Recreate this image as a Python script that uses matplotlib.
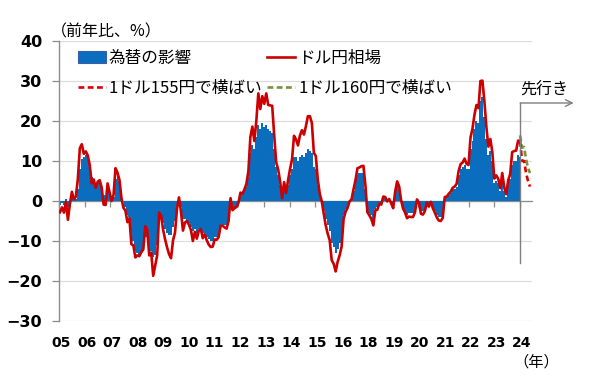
import matplotlib
matplotlib.use("Agg")
import matplotlib.pyplot as plt
import numpy as np
from matplotlib.patches import Patch
from matplotlib.lines import Line2D
import matplotlib.transforms as mtransforms

plt.rcParams['font.family'] = ['Noto Sans CJK JP', 'DejaVu Sans']

# ---- data (monthly, Jan 2005 - May 2024) ----
usdjpy_yoy = [
    -2.8, -1.6, -2.9, -0.2, -4.7, -0.7, 2.3, 0.4, 1.1, 5.5, 13.2, 14.2,      # 2005
    11.8, 12.4, 11.4, 9.0, 4.4, 5.4, 3.3, 4.8, 5.2, 3.4, -0.9, -1.0,          # 2006
    4.4, 2.2, 0.0, 1.5, 8.2, 7.1, 5.2, 0.7, -1.7, -2.4, -5.3, -4.3,           # 2007
    -10.8, -11.1, -14.1, -13.6, -13.8, -12.8, -12.1, -6.3, -7.3, -13.6, -12.9, -18.7,  # 2008
    -16.1, -13.6, -2.9, -3.7, -7.2, -9.6, -11.6, -13.3, -14.3, -9.8, -7.9, -1.9,      # 2009
    0.9, -2.6, -7.4, -5.4, -5.0, -5.9, -7.2, -10.0, -7.7, -9.4, -7.4, -7.0,   # 2010
    -9.3, -8.3, -9.8, -10.9, -11.5, -11.4, -9.6, -9.7, -9.0, -6.2, -6.2, -6.6,  # 2011
    -6.9, -5.0, 0.7, -2.3, -1.8, -1.5, -0.4, 2.1, 1.8, 2.9, 4.3, 7.5,         # 2012
    16.0, 18.6, 15.0, 20.0, 26.9, 23.0, 26.2, 24.3, 26.9, 24.0, 23.9, 23.8,   # 2013
    16.5, 9.7, 7.9, 4.9, 0.7, 4.7, 2.0, 5.2, 8.0, 10.4, 16.3, 15.4,           # 2014
    13.9, 16.4, 17.7, 16.6, 18.7, 21.2, 21.2, 19.5, 12.1, 11.2, 5.3, 1.8,     # 2015
    -0.1, -3.2, -6.1, -8.2, -9.8, -14.8, -15.7, -17.6, -15.2, -13.6, -11.4, -4.5,  # 2016
    -2.7, -1.7, -0.1, 0.4, 2.9, 5.2, 8.2, 8.4, 8.7, 8.8, 3.9, -2.8,           # 2017
    -3.6, -4.5, -6.1, -2.3, -2.2, -0.7, -0.9, 1.1, 1.0, -0.1, 0.5, -0.6,      # 2018
    -1.8, 2.3, 4.9, 3.7, 0.2, -1.9, -2.9, -4.3, -3.9, -4.0, -4.0, -2.8,       # 2019
    0.4, -0.4, -3.2, -3.4, -2.5, -0.4, -1.4, -0.2, -1.8, -2.9, -4.1, -4.9,    # 2020
    -5.0, -4.2, 1.0, 1.1, 1.8, 2.3, 3.3, 3.6, 4.3, 7.5, 9.2, 9.6,             # 2021
    10.6, 9.3, 9.0, 15.9, 18.1, 21.6, 24.0, 23.2, 30.0, 30.1, 24.9, 18.5,     # 2022
    13.6, 15.5, 12.2, 5.6, 6.4, 5.5, 3.2, 7.0, 3.4, 1.7, 5.2, 6.7,            # 2023
    12.2, 12.5, 12.6, 15.1, 15.0,                                             # 2024
]

fx_effect = [
    -1.0, -0.5, -1.0, 0.5, -1.5, 0.0, 1.0, 0.5, 0.5, 3.0, 8.0, 10.5,
    11.0, 11.5, 10.5, 9.0, 6.0, 5.0, 4.5, 4.5, 4.5, 3.5, 1.5, 0.5,
    3.0, 2.0, 1.0, 1.0, 5.5, 6.5, 5.0, 2.0, 0.0, -1.5, -3.5, -4.0,
    -8.0, -10.0, -12.5, -13.0, -13.5, -13.0, -12.5, -9.0, -9.0, -11.5, -12.5, -14.0,
    -13.5, -11.0, -4.5, -4.0, -5.5, -7.0, -8.0, -8.5, -8.5, -6.5, -5.0, -1.5,
    0.0, -1.5, -4.5, -4.5, -5.0, -5.5, -6.5, -7.5, -7.0, -8.0, -7.0, -7.0,
    -8.0, -8.0, -9.0, -9.5, -10.0, -10.0, -9.0, -9.0, -8.5, -6.5, -6.0, -6.0,
    -6.0, -4.5, -1.0, -2.0, -1.5, -1.5, -0.5, 1.5, 1.5, 2.5, 3.5, 6.0,
    12.0, 14.0, 13.0, 16.0, 19.0, 18.0, 19.5, 18.5, 19.0, 18.0, 17.5, 17.0,
    13.0, 8.5, 6.5, 4.0, 1.0, 3.5, 2.0, 4.0, 6.5, 8.0, 11.0, 11.0,
    10.0, 11.0, 11.5, 11.0, 12.0, 13.0, 12.5, 12.0, 8.5, 8.0, 4.0, 1.5,
    -0.5, -2.5, -4.5, -6.0, -7.5, -10.5, -11.5, -13.0, -12.0, -10.5, -8.5, -3.5,
    -2.0, -1.5, 0.0, 0.5, 2.5, 4.0, 6.5, 7.0, 7.0, 7.0, 3.0, -2.0,
    -3.0, -3.5, -4.5, -2.0, -1.5, -0.5, -0.5, 1.0, 1.0, 0.0, 0.5, -0.5,
    -1.5, 2.0, 4.0, 3.0, 0.0, -1.5, -2.5, -3.5, -3.0, -3.0, -3.0, -2.0,
    0.5, 0.0, -2.5, -2.5, -2.0, -0.5, -1.0, 0.0, -1.5, -2.5, -3.5, -4.0,
    -4.0, -3.5, 1.0, 1.0, 1.5, 2.0, 3.0, 3.0, 3.5, 6.5, 8.0, 8.5,
    9.0, 8.0, 8.0, 13.0, 15.0, 18.0, 20.0, 19.5, 25.0, 26.0, 21.0, 15.5,
    11.5, 12.5, 10.0, 4.5, 5.0, 4.5, 2.5, 5.5, 2.5, 1.0, 4.0, 5.5,
    9.0, 10.0, 10.0, 11.5, 11.0,
]

# scenarios (May 2024 - Oct 2024)
flat155 = [15.0, 10.0, 10.0, 7.0, 5.0, 3.6]
flat160 = [16.4, 13.3, 13.5, 10.5, 8.2, 7.0]

year_labels = ['05', '06', '07', '08', '09', '10', '11', '12', '13', '14',
               '15', '16', '18', '19', '20', '21', '22', '23', '24']

# ---- style ----
BLUE = '#0B6DBE'
RED = '#CC0000'
GREEN = '#77933C'
GRAY = '#8C8C8C'
GRID = '#DCDCDC'

fig = plt.figure(figsize=(6.0, 3.81), dpi=100)
W, H = 600, 381
ax = fig.add_axes([59 / W, 1 - 321 / H, (532 - 59) / W, (321 - 41) / H])

n = len(usdjpy_yoy)
x = np.arange(n)
last = n - 1
xf = np.arange(last, last + len(flat155))

ax.bar(x, fx_effect, width=1.0, color=BLUE, linewidth=0, zorder=2)
ax.plot(x, usdjpy_yoy, color=RED, lw=1.9, zorder=3, solid_joinstyle='round')
ax.plot(xf, flat160, color=GREEN, lw=1.9, ls=(0, (2.2, 1.3)), zorder=4)
ax.plot(xf, flat155, color='#E00000', lw=1.9, ls=(0, (2.2, 1.3)), zorder=4)

ax.set_xlim(-0.5, 238.0)
ax.set_ylim(-30, 40)

# y axis
ax.set_yticks(np.arange(-30, 41, 10))
ax.yaxis.grid(True, color=GRID, lw=0.9, zorder=0)
ax.set_axisbelow(True)
ax.tick_params(axis='y', direction='out', length=5, width=0.9, color=GRAY,
               pad=7, labelsize=11.5, labelcolor='black')
for lab in ax.get_yticklabels():
    lab.set_family('DejaVu Sans')
    lab.set_fontweight('bold')

for s in ['top', 'right']:
    ax.spines[s].set_visible(False)
ax.spines['left'].set_color(GRAY)
ax.spines['left'].set_linewidth(1.0)
ax.spines['bottom'].set_position(('data', 0))
ax.spines['bottom'].set_color(GRAY)
ax.spines['bottom'].set_linewidth(0.9)
ax.spines['bottom'].set_zorder(1)

# x ticks at zero line, labels at the bottom
tick_pos = np.linspace(-0.5, last, len(year_labels))
ax.set_xticks(tick_pos)
ax.tick_params(axis='x', direction='out', length=4, width=0.9, color=GRAY,
               labelbottom=False)
trans = mtransforms.blended_transform_factory(ax.transData, ax.transAxes)
for p, lab in zip(tick_pos, year_labels):
    ax.text(p + 1.0, -0.077, lab, transform=trans, ha='center', va='center',
            fontsize=10, family='DejaVu Sans', fontweight='bold')

ax.text(1.008, -0.148, '（年）', transform=ax.transAxes, ha='center',
        va='center', fontsize=11)
fig.text(51 / W, 1 - 32 / H, '（前年比、%）', ha='left', va='center',
         fontsize=11.5)

# forecast marker
top_v = 24.5
ax.plot([last, last], [-15.5, top_v], color='#7F7F7F', lw=1.0, zorder=5)
ax.annotate('', xy=(259, top_v), xytext=(last, top_v),
            arrowprops=dict(arrowstyle='->', color='#7F7F7F', lw=1.0,
                            shrinkA=0, shrinkB=0, mutation_scale=12),
            annotation_clip=False, zorder=5)
ax.text(last + 0.3, top_v + 1.1, '先行き', ha='left', va='bottom',
        fontsize=11.5)

# legend
handles = [
    Patch(facecolor=BLUE, edgecolor='#3A5FA8', linewidth=0.8),
    Line2D([0], [0], color='#E00000', lw=1.9, ls=(0, (2.2, 1.3))),
    Line2D([0], [0], color=RED, lw=1.9),
    Line2D([0], [0], color=GREEN, lw=1.9, ls=(0, (2.2, 1.3))),
]
labels = ['為替の影響', '1ドル155円で横ばい', 'ドル円相場', '1ドル160円で横ばい']
fig.legend(handles, labels, ncol=2, loc='upper left',
           bbox_to_anchor=(78 / W, 1 - 50 / H), frameon=False,
           prop={'size': 12}, handlelength=1.65,
           handletextpad=0.2, columnspacing=0.3, labelspacing=0.78,
           borderpad=0, borderaxespad=0)

fig.savefig('out.png', dpi=100)
